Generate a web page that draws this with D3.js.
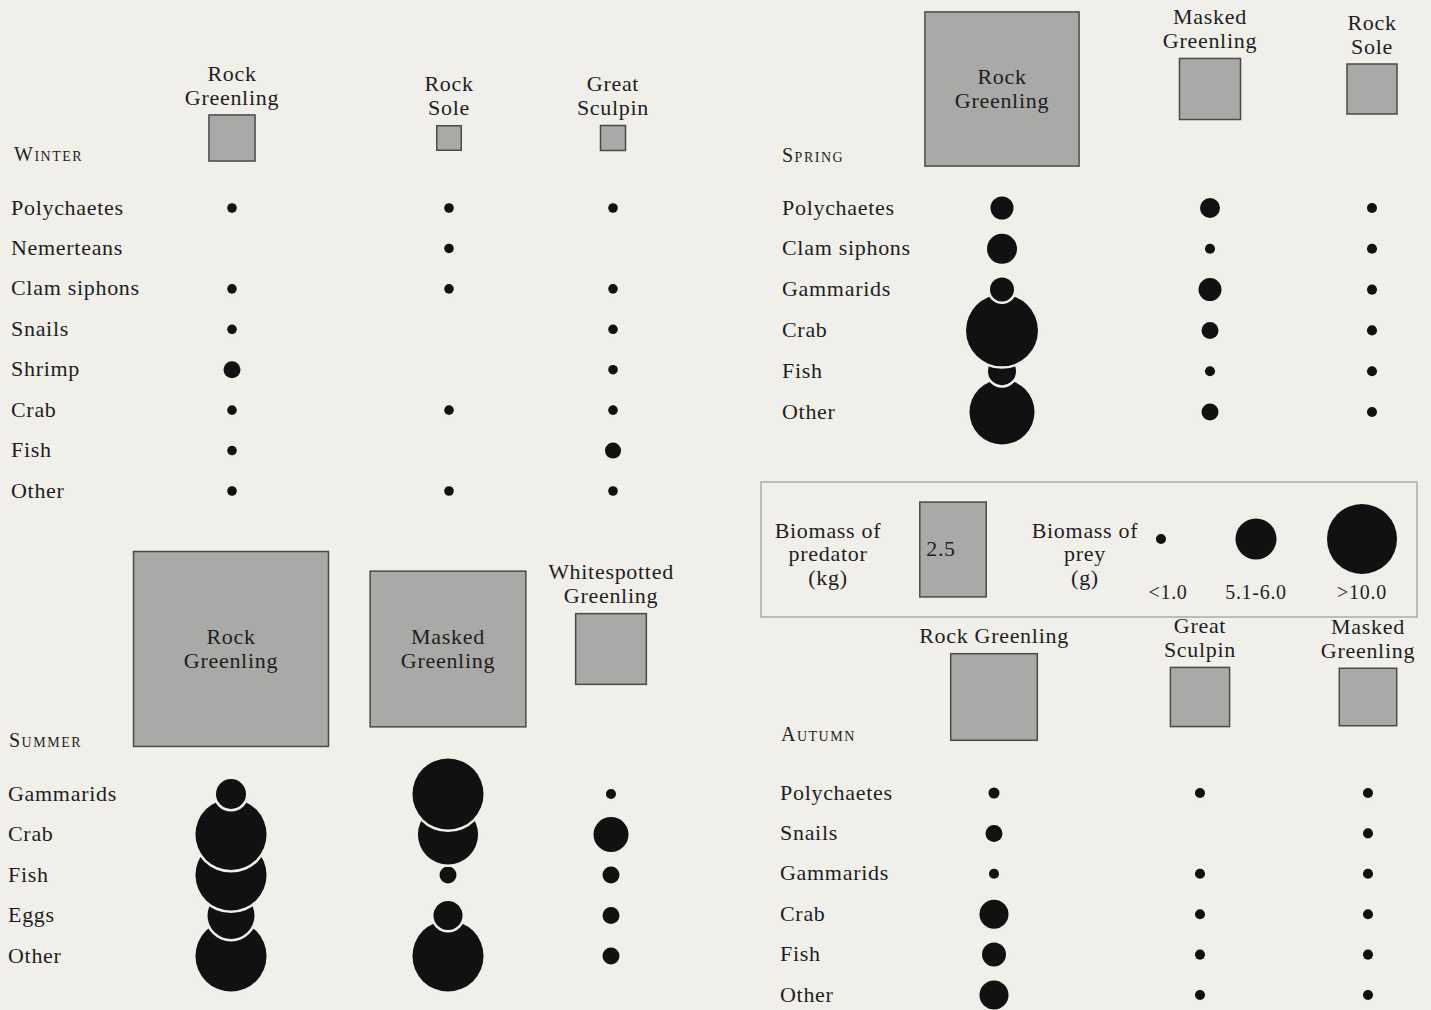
<!DOCTYPE html>
<html>
<head>
<meta charset="utf-8">
<script src="https://cdn.jsdelivr.net/npm/d3@7"></script>
<style>
  body { margin: 0; background: #f0efea; }
  text { font-family: "Liberation Serif", "Times New Roman", serif; fill: #1e1e1e; font-size: 22px; letter-spacing: 0.7px; }
  .season { font-variant: small-caps; font-size: 20px; letter-spacing: 1.5px; }
</style>
</head>
<body>
<svg width="1431" height="1010"></svg>
<script>
const bg = "#f0efea"

// winter
const winterPredators = ["Rock|Greenling", "Rock|Sole", "Great|Sculpin"]
const winterPredatorKg = [0.85, 0.24, 0.25]
const winterPrey = ["Polychaetes", "Nemerteans", "Clam siphons", "Snails", "Shrimp", "Crab", "Fish", "Other"]
const winterPreyGrams = [
  [0.3, 0.3, 0.3],
  [null, 0.3, null],
  [0.3, 0.3, 0.3],
  [0.3, null, 0.3],
  [0.94, null, 0.3],
  [0.3, 0.3, 0.3],
  [0.3, null, 0.84],
  [0.3, 0.3, 0.3]
]

// spring
const springPredators = ["Rock|Greenling", "Masked|Greenling", "Rock|Sole"]
const springPredatorKg = [9.5, 1.49, 1.0]
const springPrey = ["Polychaetes", "Clam siphons", "Gammarids", "Crab", "Fish", "Other"]
const springPreyGrams = [
  [1.73, 1.3, 0.33],
  [2.94, 0.33, 0.33],
  [1.88, 1.73, 0.33],
  [16.9, 0.94, 0.33],
  [2.56, 0.33, 0.33],
  [13.8, 0.94, 0.33]
]

// summer
const summerPredators = ["Rock|Greenling", "Masked|Greenling", "Whitespotted|Greenling"]
const summerPredatorKg = [15.2, 9.7, 2.0]
const summerPrey = ["Gammarids", "Crab", "Fish", "Eggs", "Other"]
const summerPreyGrams = [
  [2.94, 16.5, 0.33],
  [16.5, 11.8, 4.0],
  [16.5, 0.94, 0.94],
  [7.2, 2.75, 0.94],
  [16.5, 16.5, 0.94]
]

// autumn
const autumnPredators = ["Rock Greenling", "Great|Sculpin", "Masked|Greenling"]
const autumnPredatorKg = [3.0, 1.4, 1.32]
const autumnPrey = ["Polychaetes", "Snails", "Gammarids", "Crab", "Fish", "Other"]
const autumnPreyGrams = [
  [0.4, 0.33, 0.33],
  [0.94, null, 0.33],
  [0.33, 0.33, 0.33],
  [2.75, 0.33, 0.33],
  [1.88, 0.33, 0.33],
  [2.75, 0.33, 0.33]
]

// legend
const legendPredatorKg = [2.5]
const legendPreyGrams = [0.33, 5.5, 16]
const legendPreyLabels = ["<1.0", "5.1-6.0", ">10.0"]

const svg = d3.select("svg")
const sideScale = d3.scaleSqrt().domain([0, 16]).range([0, 200])
const radiusScale = d3.scaleSqrt().domain([0, 16]).range([0, 35])

const panels = [
  { season: "Winter", predators: winterPredators, kg: winterPredatorKg, prey: winterPrey, grams: winterPreyGrams,
    seasonX: 14, seasonY: 161, labelX: 11, squareY: 138, colX: [232, 449, 613], rows: [208, 491] },
  { season: "Spring", predators: springPredators, kg: springPredatorKg, prey: springPrey, grams: springPreyGrams,
    seasonX: 782, seasonY: 162, labelX: 782, squareY: 89, colX: [1002, 1210, 1372], rows: [208, 412] },
  { season: "Summer", predators: summerPredators, kg: summerPredatorKg, prey: summerPrey, grams: summerPreyGrams,
    seasonX: 9, seasonY: 747, labelX: 8, squareY: 649, colX: [231, 448, 611], rows: [794, 956] },
  { season: "Autumn", predators: autumnPredators, kg: autumnPredatorKg, prey: autumnPrey, grams: autumnPreyGrams,
    seasonX: 781, seasonY: 741, labelX: 780, squareY: 697, colX: [994, 1200, 1368], rows: [793, 995] }
]

panels.forEach(p => {
  const g = svg.append("g")
  const x = d3.scaleOrdinal().domain(p.predators).range(p.colX)
  const y = d3.scalePoint().domain(p.prey).range(p.rows)

  g.append("text")
    .attr("class", "season")
    .attr("x", p.seasonX)
    .attr("y", p.seasonY)
    .text(p.season)

  g.selectAll("text.prey")
    .data(p.prey)
    .enter()
    .append("text")
    .attr("class", "prey")
    .attr("x", p.labelX)
    .attr("y", d => y(d))
    .attr("dy", "0.3em")
    .text(d => d)

  // predator squares
  const preds = p.predators.map((name, i) => ({ name, kg: p.kg[i] }))
  const sq = g.selectAll("g.pred")
    .data(preds)
    .enter()
    .append("g")
    .attr("class", "pred")
    .attr("transform", d => `translate(${x(d.name)}, ${p.squareY})`)

  sq.append("rect")
    .attr("x", d => -sideScale(d.kg) / 2)
    .attr("y", d => -sideScale(d.kg) / 2)
    .attr("width", d => sideScale(d.kg))
    .attr("height", d => sideScale(d.kg))
    .attr("fill", "#a9a9a7")
    .attr("stroke", "#4a4a4a")
    .attr("stroke-width", 1.5)

  sq.each(function (d) {
    const s = sideScale(d.kg)
    const lines = d.name.split("|")
    const inside = s > 140
    d3.select(this).selectAll("text")
      .data(lines)
      .enter()
      .append("text")
      .attr("text-anchor", "middle")
      .attr("x", 0)
      .attr("y", (t, i) => inside ? -12 + i * 24 : -s / 2 - 17 - (lines.length - 1 - i) * 24)
      .attr("dy", "0.3em")
      .text(t => t)
  })

  // prey circles, upper rows drawn on top
  const cells = []
  p.grams.forEach((row, i) => row.forEach((v, j) => {
    if (v != null) cells.push({ row: i, prey: p.prey[i], pred: p.predators[j], g: v })
  }))
  cells.sort((a, b) => b.row - a.row)

  const dots = g.selectAll("g.dot")
    .data(cells)
    .enter()
    .append("g")
    .attr("class", "dot")
    .attr("transform", d => `translate(${x(d.pred)}, ${y(d.prey)})`)

  dots.append("circle")
    .attr("r", d => radiusScale(d.g) + 2.5)
    .attr("fill", bg)

  dots.append("circle")
    .attr("r", d => radiusScale(d.g))
    .attr("fill", "#111")
})

// legend box
const legend = svg.append("g")
legend.append("rect")
  .attr("x", 761)
  .attr("y", 482)
  .attr("width", 656)
  .attr("height", 135)
  .attr("fill", "none")
  .attr("stroke", "#9a9a9a")
  .attr("stroke-width", 1.2)

legend.selectAll("text.lp")
  .data(["Biomass of", "predator", "(kg)"])
  .enter()
  .append("text")
  .attr("class", "lp")
  .attr("text-anchor", "middle")
  .attr("x", 828)
  .attr("y", (d, i) => 531 + i * 23.5)
  .attr("dy", "0.3em")
  .text(d => d)

const lsq = legend.selectAll("g.lsq")
  .data(legendPredatorKg)
  .enter()
  .append("g")
  .attr("class", "lsq")
  .attr("transform", "translate(953, 549.5)")

lsq.append("rect")
  .attr("x", d => -sideScale(d) * 0.42)
  .attr("y", d => -sideScale(d) * 0.6)
  .attr("width", d => sideScale(d) * 0.84)
  .attr("height", d => sideScale(d) * 1.2)
  .attr("fill", "#a9a9a7")
  .attr("stroke", "#4a4a4a")
  .attr("stroke-width", 1.5)

lsq.append("text")
  .attr("text-anchor", "middle")
  .attr("x", -12)
  .attr("dy", "0.3em")
  .text(d => d)

legend.selectAll("text.lg")
  .data(["Biomass of", "prey", "(g)"])
  .enter()
  .append("text")
  .attr("class", "lg")
  .attr("text-anchor", "middle")
  .attr("x", 1085)
  .attr("y", (d, i) => 531 + i * 23.5)
  .attr("dy", "0.3em")
  .text(d => d)

const lx = d3.scaleOrdinal().domain(legendPreyLabels).range([1161, 1256, 1362])
const litems = legend.selectAll("g.li")
  .data(legendPreyGrams.map((v, i) => ({ v, label: legendPreyLabels[i] })))
  .enter()
  .append("g")
  .attr("class", "li")
  .attr("transform", d => `translate(${lx(d.label)}, 0)`)

litems.append("circle")
  .attr("cy", 539)
  .attr("r", d => radiusScale(d.v))
  .attr("fill", "#111")

litems.append("text")
  .attr("text-anchor", "middle")
  .attr("x", (d, i) => i === 0 ? 7 : 0)
  .attr("y", 593)
  .attr("dy", "0.3em")
  .style("font-size", "20px")
  .text(d => d.label)
</script>
</body>
</html>
